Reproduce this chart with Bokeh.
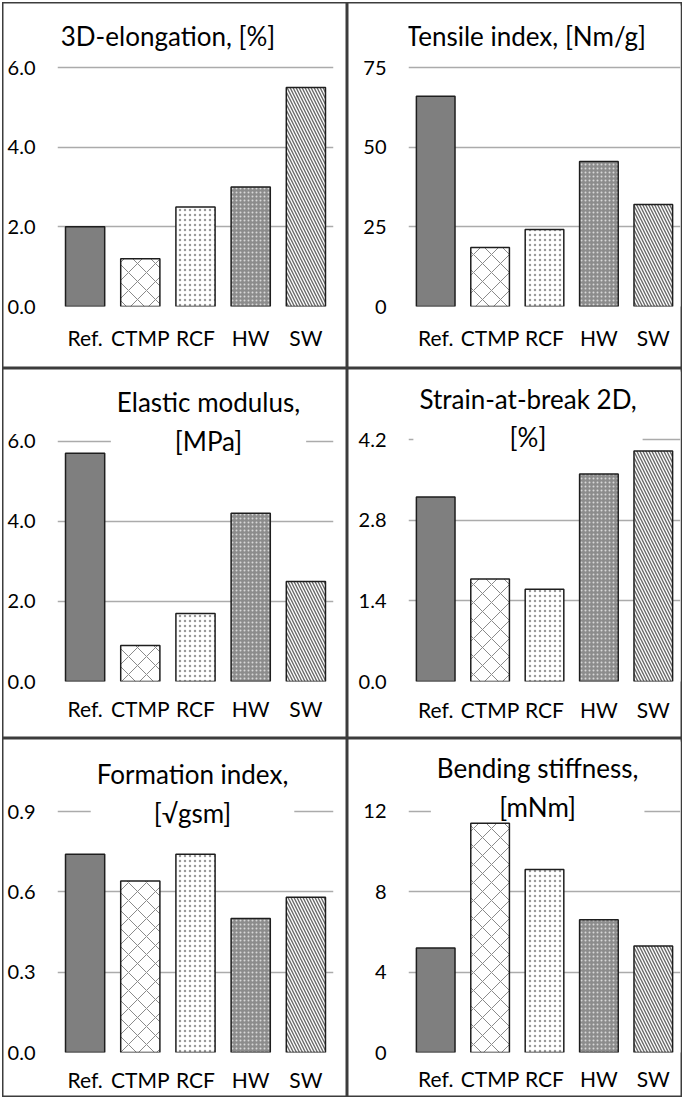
from bokeh.plotting import figure
from bokeh.layouts import gridplot
from bokeh.models import ColumnDataSource, FixedTicker, Label, FactorRange, Range1d
from bokeh.embed import file_html
from bokeh.resources import INLINE

# ---------------- data ----------------
categories = ["Ref.", "CTMP", "RCF", "HW", "SW"]

elongation_3d = [2.0, 1.2, 2.5, 3.0, 5.5]
tensile_index = [66.0, 18.5, 24.2, 45.5, 32.0]
elastic_modulus = [5.7, 0.9, 1.7, 4.2, 2.5]
strain_at_break_2d = [3.2, 1.78, 1.6, 3.6, 4.0]
formation_index = [0.74, 0.64, 0.74, 0.50, 0.58]
bending_stiffness = [5.2, 11.4, 9.1, 6.6, 5.3]

ticks_elongation = [0, 2, 4, 6]
labels_elongation = ["0.0", "2.0", "4.0", "6.0"]
ticks_tensile = [0, 25, 50, 75]
labels_tensile = ["0", "25", "50", "75"]
ticks_elastic = [0, 2, 4, 6]
labels_elastic = ["0.0", "2.0", "4.0", "6.0"]
ticks_strain = [0, 1.4, 2.8, 4.2]
labels_strain = ["0.0", "1.4", "2.8", "4.2"]
ticks_formation = [0, 0.3, 0.6, 0.9]
labels_formation = ["0.0", "0.3", "0.6", "0.9"]
ticks_bending = [0, 4, 8, 12]
labels_bending = ["0", "4", "8", "12"]

titles = [
    "3D-elongation, [%]",
    "Tensile index, [Nm/g]",
    "Elastic modulus,\n[MPa]",
    "Strain-at-break 2D,\n[%]",
    "Formation index,\n[\u221agsm]",
    "Bending stiffness,\n[mNm]",
]

# ---------------- styles ----------------
FONT = "Lato"
bar_fill = ["#7f7f7f", "#ffffff", "#ffffff", "#8c8c8c", "#ffffff"]
bar_hatch = [" ", "x", ".", ".", "\\"]
bar_hatch_color = ["#7f7f7f", "#8a8a8a", "#9a9a9a", "#d8d8d8", "#6a6a6a"]
bar_hatch_scale = [10, 18, 5, 4, 6]
bar_hatch_weight = [1, 1, 1.2, 1.2, 1.4]

# layout per panel (pixels inside each panel)
# w, h: panel size; l, r: frame left/right borders; ft: pixel row of the top tick;
# fb: frame bottom row; xs: x label standoff; tcx, tcy: title centre
panels = [
    dict(values=elongation_3d, ticks=ticks_elongation, labels=labels_elongation,
         w=345, h=366, l=55, r=14, ft=65, fb=304, xs=18, tcx=165.5, tcy=33),
    dict(values=tensile_index, ticks=ticks_tensile, labels=labels_tensile,
         w=335, h=366, l=53, r=2, ft=65, fb=304, xs=18, tcx=174, tcy=33),
    dict(values=elastic_modulus, ticks=ticks_elastic, labels=labels_elastic,
         w=345, h=370, l=55, r=14, ft=73, fb=314, xs=14, tcx=206, tcy=53),
    dict(values=strain_at_break_2d, ticks=ticks_strain, labels=labels_strain,
         w=335, h=370, l=61, r=2, ft=71, fb=313, xs=15, tcx=180.5, tcy=49.5),
    dict(values=formation_index, ticks=ticks_formation, labels=labels_formation,
         w=345, h=359, l=55, r=14, ft=73, fb=314, xs=14, tcx=190, tcy=55),
    dict(values=bending_stiffness, ticks=ticks_bending, labels=labels_bending,
         w=335, h=359, l=55, r=2, ft=73, fb=315, xs=13, tcx=187, tcy=49),
]

TOP_BORDER = 3


def make_panel(cfg, title):
    ticks = cfg["ticks"]
    top = ticks[-1]
    w, h, l, r, ft, fb = cfg["w"], cfg["h"], cfg["l"], cfg["r"], cfg["ft"], cfg["fb"]
    per_px = top / (fb - ft)
    y_end = (fb - TOP_BORDER) * per_px
    p = figure(
        x_range=FactorRange(factors=categories, range_padding=0),
        y_range=Range1d(0, y_end),
        width=w, height=h,
        output_backend="svg", toolbar_location=None,
        min_border_left=l, min_border_right=r,
        min_border_top=TOP_BORDER, min_border_bottom=h - fb,
    )
    p.background_fill_color = "white"
    p.border_fill_color = None
    p.outline_line_color = None
    p.styles = {"box-shadow": "inset 0 0 0 1.5px #3c3c3c"}

    p.xgrid.grid_line_color = None
    p.ygrid.ticker = FixedTicker(ticks=ticks)
    p.ygrid.grid_line_color = "#ababab"
    p.ygrid.grid_line_width = 1.5
    p.ygrid.level = "underlay"

    frame_w = w - l - r
    tx = (cfg["tcx"] - l) / (frame_w / len(categories))
    ty = (fb - cfg["tcy"]) * per_px
    lab = Label(x=tx, y=ty, x_units="data", y_units="data",
                text=title, text_font=FONT, text_font_size="26px",
                text_align="center", text_baseline="middle",
                text_color="#000000", text_line_height=1.2,
                background_fill_color="white", padding=dict(x=6, y=0),
                level="underlay")
    p.add_layout(lab)

    src = ColumnDataSource(dict(
        x=categories, top=cfg["values"], fill=bar_fill, hatch=bar_hatch,
        hcolor=bar_hatch_color, hscale=bar_hatch_scale, hweight=bar_hatch_weight,
    ))
    p.vbar(x="x", top="top", bottom=0, width=0.71, source=src,
           fill_color="fill", line_color="#1e1e1e", line_width=1.5,
           hatch_pattern="hatch", hatch_color="hcolor",
           hatch_scale="hscale", hatch_weight="hweight")

    ya = p.yaxis[0]
    ya.ticker = FixedTicker(ticks=ticks)
    ya.major_label_overrides = {tk: lb for tk, lb in zip(ticks, cfg["labels"])}
    ya.axis_line_color = None
    ya.major_tick_line_color = None
    ya.minor_tick_line_color = None
    ya.major_tick_out = 0
    ya.major_tick_in = 0
    ya.major_label_standoff = 22
    ya.major_label_text_font = FONT
    ya.major_label_text_font_size = "20px"
    ya.major_label_text_color = "#000000"

    xa = p.xaxis[0]
    xa.axis_line_color = None
    xa.major_tick_line_color = None
    xa.major_tick_out = 0
    xa.major_tick_in = 0
    xa.major_label_standoff = cfg["xs"]
    xa.major_label_text_font = FONT
    xa.major_label_text_font_size = "21px"
    xa.major_label_text_color = "#000000"
    return p


figs = [make_panel(cfg, ttl) for cfg, ttl in zip(panels, titles)]
grid = gridplot([[figs[0], figs[1]], [figs[2], figs[3]], [figs[4], figs[5]]],
                toolbar_location=None)
grid.styles = {"margin-left": "2px", "margin-top": "2px"}

open("out.html", "w").write(file_html(grid, INLINE))
